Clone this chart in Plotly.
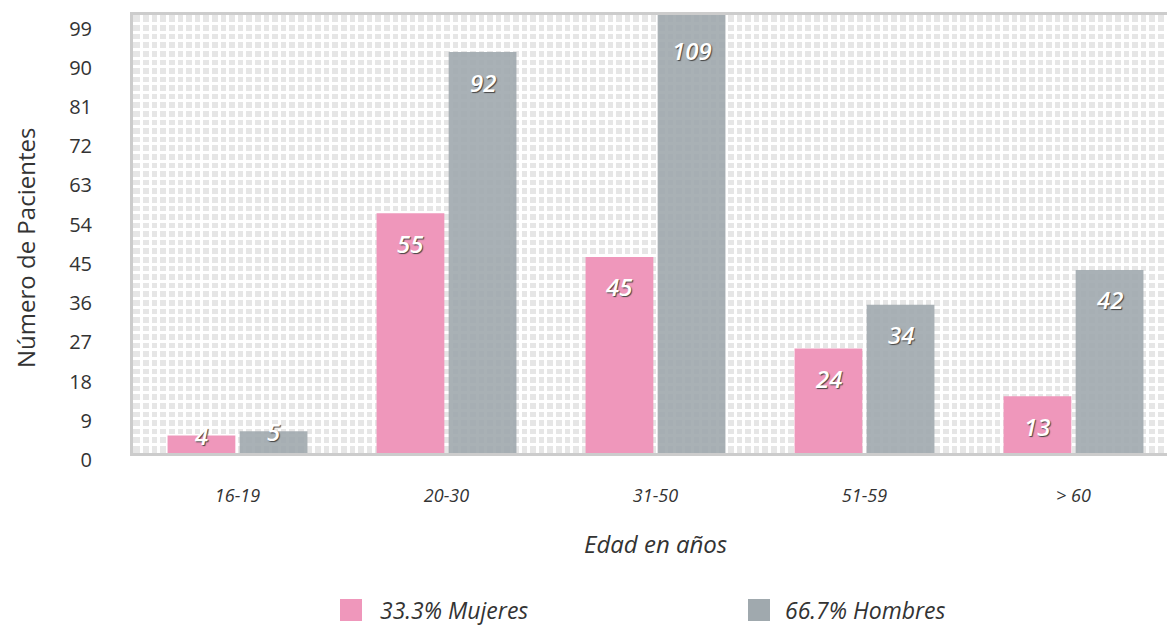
import plotly.graph_objects as go

categories = ["16-19", "20-30", "31-50", "51-59", "> 60"]
mujeres = [4, 55, 45, 24, 13]
hombres = [5, 92, 109, 34, 42]
y_ticks = [0, 9, 18, 27, 36, 45, 54, 63, 72, 81, 90, 99]
legend_labels = ["33.3% Mujeres", "66.7% Hombres"]
x_title = "Edad en años"
y_title = "Número de Pacientes"

PINK = "#ef97bb"
GRAY = "#a0a9ae"
FONT = "Open Sans"

W, H = 1167, 627
L, R, T, B = 133, 0, 15, 174
plot_w = W - L - R
plot_h = H - T - B
y_max = 100.5
x_range = [-0.5, -0.5 + plot_w / 209.0]
bargap = 0.31
bargroupgap = 0.06

fig = go.Figure()
fig.add_trace(go.Bar(x=categories, y=mujeres, name=legend_labels[0],
                     marker=dict(color=PINK, line=dict(width=0)), showlegend=False,
                     hoverinfo="x+y"))
fig.add_trace(go.Bar(x=categories, y=hombres, name=legend_labels[1],
                     marker=dict(color=GRAY, line=dict(width=0)), opacity=0.9,
                     showlegend=False, hoverinfo="x+y"))
# dummy trace to activate the overlay axis used for the vertical grid texture
fig.add_trace(go.Scatter(x=[None], y=[None], xaxis="x2", yaxis="y",
                         showlegend=False, hoverinfo="skip"))

# value labels
px_per_cat = plot_w / (x_range[1] - x_range[0])
slot = px_per_cat * (1 - bargap) / 2
annotations = []
for series, sign in ((mujeres, -1), (hombres, 1)):
    for cat, v in zip(categories, series):
        yv = min(v, y_max)
        shift = -30 if v >= 10 else 0
        if v > y_max:
            shift = -35
        annotations.append(dict(
            x=cat, y=yv, xref="x", yref="y", text=str(v), showarrow=False,
            xanchor="center", yanchor="middle",
            xshift=sign * slot / 2, yshift=shift,
            font=dict(family=FONT, size=24, color="white", weight=600, style="italic",
                      shadow="1px 1px 1px #444")))

def px2paper_x(px):
    return (px - L) / plot_w

def px2paper_y(py):
    return (H - B - py) / plot_h

annotations.append(dict(x=px2paper_x(25), y=px2paper_y(248), xref="paper", yref="paper",
                        xanchor="center", yanchor="middle",
                        text=y_title, textangle=-90, showarrow=False,
                        font=dict(family=FONT, size=24, color="#333")))
annotations.append(dict(x=px2paper_x(655), y=px2paper_y(543), xref="paper", yref="paper",
                        xanchor="center", yanchor="middle",
                        text=x_title, showarrow=False,
                        font=dict(family=FONT, size=24, color="#333", style="italic")))

shapes = []
for (sx0, sx1, tx, col, lab) in ((340, 362, 378, PINK, legend_labels[0]),
                                  (748, 770, 783, GRAY, legend_labels[1])):
    shapes.append(dict(type="rect", xref="paper", yref="paper",
                       x0=px2paper_x(sx0), x1=px2paper_x(sx1),
                       y0=px2paper_y(621), y1=px2paper_y(599),
                       fillcolor=col, line=dict(width=0)))
    annotations.append(dict(x=px2paper_x(tx), y=px2paper_y(610), xref="paper", yref="paper",
                            xanchor="left", yanchor="middle", text=lab, showarrow=False,
                            font=dict(family=FONT, size=23, color="#333", style="italic")))

fig.update_layout(
    width=W, height=H,
    margin=dict(l=L, r=R, t=T, b=B, pad=0),
    paper_bgcolor="white",
    plot_bgcolor="#e6e6e6",
    barmode="group", bargap=bargap, bargroupgap=bargroupgap,
    annotations=annotations, shapes=shapes,
    showlegend=False,
    xaxis=dict(range=x_range, showgrid=False, showline=True, linecolor="#cccccc",
               linewidth=3, mirror=True, ticks="", ticklabelstandoff=24,
               tickfont=dict(family=FONT, size=18, color="#333", style="italic"),
               fixedrange=True),
    xaxis2=dict(overlaying="x", range=[0, plot_w / 8.6], dtick=1, showgrid=True,
                gridcolor="white", gridwidth=3, showticklabels=False, ticks="",
                zeroline=False, showline=False, side="top"),
    yaxis=dict(range=[0, y_max], tickvals=y_ticks, showgrid=False,
               minor=dict(dtick=1.97, showgrid=True, gridcolor="white", gridwidth=3, ticks=""),
               showline=True, linecolor="#cccccc", linewidth=3, zeroline=False,
               ticks="", ticklabelstandoff=34, ticklabelshift=7,
               tickfont=dict(family=FONT, size=20, color="#333"),
               fixedrange=True),
)

fig.write_html("out.html")
